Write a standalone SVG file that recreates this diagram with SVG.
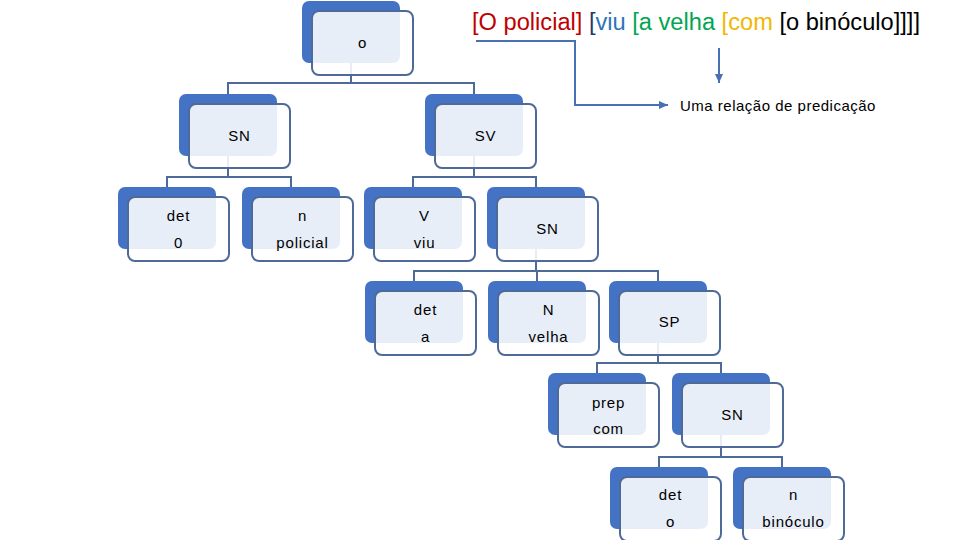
<svg xmlns="http://www.w3.org/2000/svg" width="960" height="540" viewBox="0 0 960 540">
<defs>
<style>
.b{fill:#4472c4}
.f{fill:#ffffff;fill-opacity:0.88;stroke:#4e6a98;stroke-width:2}
.t{font-family:"Liberation Sans",Arial,sans-serif;font-size:15px;fill:#000;text-anchor:middle;letter-spacing:0.8px}
.c{fill:none;stroke:#4e6a98;stroke-width:2}
.a{fill:none;stroke:#4a70b4;stroke-width:2}
</style>
<marker id="ah" markerUnits="userSpaceOnUse" markerWidth="9" markerHeight="8" refX="9" refY="4" orient="auto">
<path d="M0,0 L9,4 L0,8 z" fill="#4a70b4"/>
</marker>
</defs>
<rect width="960" height="540" fill="#ffffff"/>

<g id="connectors">
<path class="c" d="M351,63V83 M228,94V83H474V94"/>
<path class="c" d="M228,156V177 M167,187V177H291V187"/>
<path class="c" d="M474,156V177 M413,187V177H536V187"/>
<path class="c" d="M536,249V271 M414,281V271H658V281 M537,271V281"/>
<path class="c" d="M658,343V363 M597,373V363H721V373"/>
<path class="c" d="M721,435V457 M659,467V457H782V467"/>
<path class="a" d="M476,41H575V105H668" marker-end="url(#ah)"/>
<path class="a" d="M719,48V83" marker-end="url(#ah)"/>
</g>

<g id="title">
<text x="472" y="30" textLength="448" lengthAdjust="spacingAndGlyphs" style="font-family:'Liberation Sans',Arial,sans-serif;font-size:23px"><tspan fill="#c00000">[O policial]</tspan> <tspan fill="#1f3864">[</tspan><tspan fill="#2e75b6">viu</tspan> <tspan fill="#00a651">[a velha</tspan> <tspan fill="#f0b800">[com</tspan> <tspan fill="#000000">[o binóculo]]]]</tspan></text>
</g>
<g id="label-predicacao">
<text x="680" y="111" style="font-family:'Liberation Sans',Arial,sans-serif;font-size:15px;letter-spacing:0.5px" fill="#000">Uma relação de predicação</text>
</g>

<g id="node-o">
<rect class="b" x="302" y="1" width="98" height="62" rx="7"/>
<rect class="f" x="312" y="11" width="101" height="64" rx="7"/>
<text class="t" x="362.5" y="48">o</text>
</g>
<g id="node-sn1">
<rect class="b" x="179" y="94" width="98" height="62" rx="7"/>
<rect class="f" x="189" y="104" width="101" height="64" rx="7"/>
<text class="t" x="239.5" y="141">SN</text>
</g>
<g id="node-sv">
<rect class="b" x="425" y="94" width="98" height="62" rx="7"/>
<rect class="f" x="435" y="104" width="101" height="64" rx="7"/>
<text class="t" x="485.5" y="141">SV</text>
</g>
<g id="node-det0">
<rect class="b" x="118" y="187" width="98" height="62" rx="7"/>
<rect class="f" x="128" y="197" width="101" height="64" rx="7"/>
<text class="t" x="178.5" y="221">det</text>
<text class="t" x="178.5" y="248">0</text>
</g>
<g id="node-npolicial">
<rect class="b" x="242" y="187" width="98" height="62" rx="7"/>
<rect class="f" x="252" y="197" width="101" height="64" rx="7"/>
<text class="t" x="302.5" y="221">n</text>
<text class="t" x="302.5" y="248">policial</text>
</g>
<g id="node-vviu">
<rect class="b" x="364" y="187" width="98" height="62" rx="7"/>
<rect class="f" x="374" y="197" width="101" height="64" rx="7"/>
<text class="t" x="424.5" y="221">V</text>
<text class="t" x="424.5" y="248">viu</text>
</g>
<g id="node-sn2">
<rect class="b" x="487" y="187" width="98" height="62" rx="7"/>
<rect class="f" x="497" y="197" width="101" height="64" rx="7"/>
<text class="t" x="547.5" y="234">SN</text>
</g>
<g id="node-deta">
<rect class="b" x="365" y="281" width="98" height="62" rx="7"/>
<rect class="f" x="375" y="291" width="101" height="64" rx="7"/>
<text class="t" x="425.5" y="315">det</text>
<text class="t" x="425.5" y="342">a</text>
</g>
<g id="node-nvelha">
<rect class="b" x="488" y="281" width="98" height="62" rx="7"/>
<rect class="f" x="498" y="291" width="101" height="64" rx="7"/>
<text class="t" x="548.5" y="315">N</text>
<text class="t" x="548.5" y="342">velha</text>
</g>
<g id="node-sp">
<rect class="b" x="609" y="281" width="98" height="62" rx="7"/>
<rect class="f" x="619" y="291" width="101" height="64" rx="7"/>
<text class="t" x="669.5" y="327">SP</text>
</g>
<g id="node-prepcom">
<rect class="b" x="548" y="373" width="98" height="62" rx="7"/>
<rect class="f" x="558" y="383" width="101" height="64" rx="7"/>
<text class="t" x="608.5" y="408">prep</text>
<text class="t" x="608.5" y="434">com</text>
</g>
<g id="node-sn3">
<rect class="b" x="672" y="373" width="98" height="62" rx="7"/>
<rect class="f" x="682" y="383" width="101" height="64" rx="7"/>
<text class="t" x="732.5" y="420">SN</text>
</g>
<g id="node-deto">
<rect class="b" x="610" y="467" width="98" height="62" rx="7"/>
<rect class="f" x="620" y="477" width="101" height="64" rx="7"/>
<text class="t" x="670.5" y="500">det</text>
<text class="t" x="670.5" y="527">o</text>
</g>
<g id="node-nbinoculo">
<rect class="b" x="733" y="467" width="98" height="62" rx="7"/>
<rect class="f" x="743" y="477" width="101" height="64" rx="7"/>
<text class="t" x="793.5" y="500">n</text>
<text class="t" x="793.5" y="527">binóculo</text>
</g>
</svg>
